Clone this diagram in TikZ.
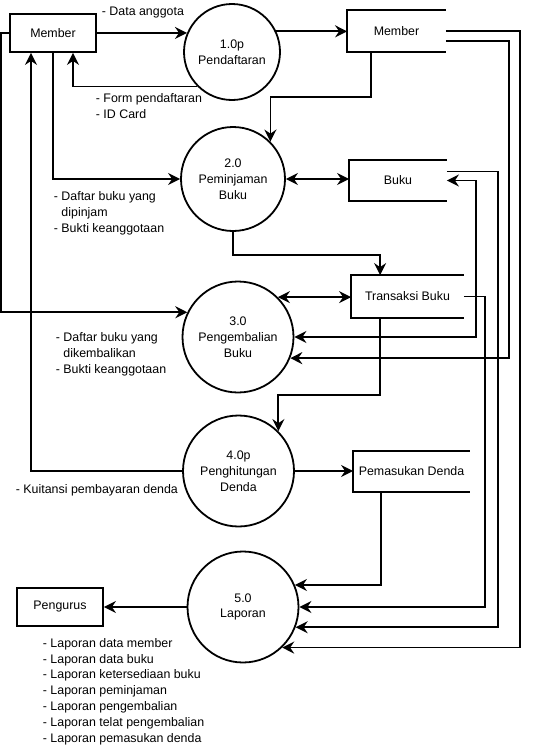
\documentclass[tikz,border=0pt]{standalone}
\usepackage{fontspec}
\setmainfont{Liberation Sans}
\usetikzlibrary{arrows.meta, positioning}
\tikzset{proc/.style={draw,circle,inner sep=0pt,align=center},
         ext/.style={draw,minimum width=86pt,minimum height=38pt},
         store/.style={inner sep=0pt,minimum height=40pt},
         fl/.style={-{Stealth[length=12pt,width=12pt,inset=4pt]}},
         dfl/.style={{Stealth[length=12pt,width=12pt,inset=4pt]}-{Stealth[length=12pt,width=12pt,inset=4pt]}},
         lbl/.style={anchor=west,align=left,inner sep=0pt}}

\begin{document}
\begin{tikzpicture}[x=1pt,y=-1pt,line width=1.8pt,every node/.style={font=\fontsize{12.4}{15.8}\selectfont}]
        \useasboundingbox (0,0) rectangle (533,747);

        \node[ext](mext)at(53,33){Member};
        \node[ext](pg)at(60,607){Pengurus};

        \node[proc,minimum size=96pt](p1)at(232,52){1.0p\\Pendaftaran};
        \node[proc,minimum size=104pt](p2)at(233,179){2.0\\Peminjaman\\Buku};
        \node[proc,minimum size=111pt](p3)at(238,337){3.0\\Pengembalian\\Buku};
        \node[proc,minimum size=111pt](p4)at(238.5,471){4.0p\\Penghitungan\\Denda};
        \node[proc,minimum size=111pt](p5)at(243,607){5.0\\Laporan};

        \node[store,minimum width=97pt](ms)at(396.5,31){Member};
        \node[store,minimum width=96pt,minimum height=39pt](bk)at(398,180.5){Buku};
        \node[store,minimum width=111pt,minimum height=41pt](tb)at(407.5,296.5){Transaksi Buku};
        \node[store,minimum width=115pt,minimum height=39pt](pd)at(411.5,471.5){Pemasukan Denda};

        \draw(ms.north east)--(ms.north west)--(ms.south west)--(ms.south east);
        \draw(bk.north east)--(bk.north west)--(bk.south west)--(bk.south east);
        \draw(tb.north east)--(tb.north west)--(tb.south west)--(tb.south east);
        \draw(pd.north east)--(pd.north west)--(pd.south west)--(pd.south east);

        \draw[fl](mext.east)--(p1.157);
        \draw[fl](p1.25)--(p1.25 -| ms.west);
        \draw[fl](p1.225)-|([xshift=20pt]mext.south);
        \draw[fl]([xshift=24pt]ms.south west)--++(0,45)-|(p2.45);
        \draw[fl](mext.south)|-(p2.west);
        \draw[dfl](p2.east)--(p2.east -| bk.west);
        \draw[fl](p2.south)--++(0,23)-|([xshift=29pt]tb.north west);

        \draw[dfl](p3.45)--(p3.45 -| tb.west);
        \draw[fl](mext.west)--++(-8,0)|-(p3.154);
        \draw[dfl](p3.east)-|([xshift=29pt]bk.east)--(bk.east);
        \draw[fl]([yshift=-10pt]ms.east)--++(63,0)|-(p3.-22);

        \draw[fl]([xshift=29pt]tb.south west)--++(0,77)-|(p4.45);
        \draw[fl](p4.west)-|([xshift=-22pt]mext.south);
        \draw[fl](p4.east)--(p4.east -| pd.west);

        \draw[fl]([xshift=28pt]pd.south west)|-(p5.23);
        \draw[fl](tb.east)--++(21,0)|-(p5.east);
        \draw[fl]([yshift=9pt]bk.east)--++(51,0)|-(p5.-21);
        \draw[fl](ms.east)--++(74,0)|-(p5.-46);
        \draw[fl](p5.west)--(p5.west -| pg.east);

        \node[lbl](l1)at(101,13){- Data anggota};
        \node[lbl](l2)at(95,106){- Form pendaftaran\\- ID Card};
        \node[lbl](l3)at(53,213){- Daftar buku yang\\\phantom{- }dipinjam\\- Bukti keanggotaan};
        \node[lbl](l4)at(55,354){- Daftar buku yang\\\phantom{- }dikembalikan\\- Bukti keanggotaan};
        \node[lbl](l5)at(15,490){- Kuitansi pembayaran denda};
        \node[lbl](l6)at(42,691.5){- Laporan data member\\- Laporan data buku\\- Laporan ketersediaan buku\\- Laporan peminjaman\\- Laporan pengembalian\\- Laporan telat pengembalian\\- Laporan pemasukan denda};
\end{tikzpicture}
\end{document}
